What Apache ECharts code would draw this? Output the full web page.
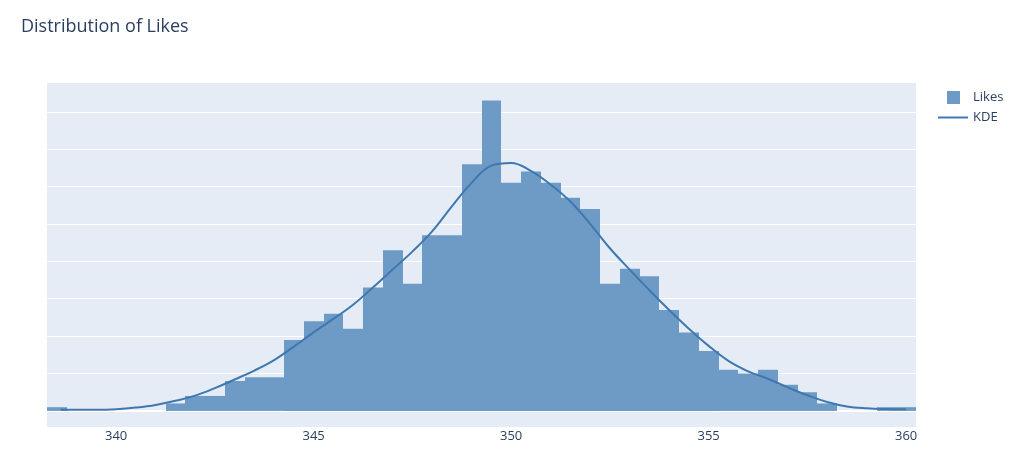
<!DOCTYPE html>
<html>
<head>
<meta charset="utf-8">
<script src="https://cdn.jsdelivr.net/npm/echarts@6/dist/echarts.min.js"></script>
<style>
  html, body { margin: 0; padding: 0; background: #fff; }
  #chart { width: 1024px; height: 474px; }
</style>
</head>
<body>
<div id="chart"></div>
<script>
// histogram bins (centre of each 0.5-wide bin) and counts
const binWidth = 0.5;
const binCenters = [338.5, 339, 339.5, 340, 340.5, 341, 341.5, 342, 342.5, 343, 343.5, 344,
  344.5, 345, 345.5, 346, 346.5, 347, 347.5, 348, 348.5, 349, 349.5, 350, 350.5, 351,
  351.5, 352, 352.5, 353, 353.5, 354, 354.5, 355, 355.5, 356, 356.5, 357, 357.5, 358,
  358.5, 359, 359.5, 360];
const likeCounts = [1, 0, 0, 0, 0, 0, 2, 4, 4, 8, 9, 9,
  19, 24, 26, 22, 33, 43, 34, 47, 47, 66, 83, 61, 64, 61,
  57, 54, 34, 38, 36, 27, 21, 16, 11, 10, 11, 7, 5, 2,
  0, 0, 1, 1];

// KDE curve (same units as the counts)
const kdeX = [338.6, 339, 339.5, 340, 340.5, 341, 341.5, 342, 342.5, 343, 343.5, 344,
  344.5, 345, 345.5, 346, 346.5, 347, 347.5, 348, 348.5, 349, 349.5, 350, 350.5, 351,
  351.5, 352, 352.5, 353, 353.5, 354, 354.5, 355, 355.5, 356, 356.5, 357, 357.5, 358,
  358.5, 359, 359.5, 360];
const kdeY = [0.3, 0.3, 0.3, 0.45, 0.9, 1.6, 2.7, 4.1, 6.1, 8.4, 10.8, 13.6,
  17.2, 21.0, 24.6, 28.4, 33.0, 37.8, 42.6, 48.0, 54.7, 61.0, 65.6, 66.3, 64.2, 60.5,
  56.0, 50.0, 43.5, 37.8, 32.3, 27.0, 22.0, 17.4, 13.4, 10.6, 8.6, 6.3, 4.2, 2.4,
  1.2, 0.7, 0.5, 0.45];

const xTicks = [340, 345, 350, 355, 360];

const textColor = '#2a3f5f';
const barColor = '#6d9bc6';
const lineColor = '#3f78b0';

const myChart = echarts.init(document.getElementById('chart'));

var option = {
    animation: false,
    textStyle: { fontFamily: 'Open Sans' },
    title: {
        text: 'Distribution of Likes',
        left: 16,
        top: 13,
        textStyle: {
            fontFamily: 'Open Sans',
            fontSize: 18,
            fontWeight: 'normal',
            color: textColor
        }
    },
    legend: [
        {
            orient: 'vertical',
            left: 942,
            top: 86,
            itemWidth: 13,
            itemHeight: 13,
            data: [{ name: 'Likes', icon: 'rect' }],
            textStyle: { fontSize: 13, color: textColor, padding: [0, 0, 0, 8] }
        },
        {
            orient: 'vertical',
            left: 933,
            top: 106,
            itemWidth: 30,
            itemHeight: 2,
            data: [{ name: 'KDE', icon: 'rect' }],
            textStyle: { fontSize: 13, color: textColor }
        }
    ],
    grid: {
        left: 47,
        top: 83,
        width: 869,
        height: 344,
        show: true,
        backgroundColor: '#E5ECF6',
        borderWidth: 0
    },
    xAxis: {
        type: 'value',
        min: 338.25,
        max: 360.25,
        axisLine: {
            show: true,
            onZero: true,
            // plotly-style white zero line
            lineStyle: { color: '#ffffff', width: 2 }
        },
        axisTick: { show: false },
        splitLine: { show: false },
        axisLabel: {
            customValues: xTicks,
            margin: 3,
            fontSize: 13,
            color: textColor
        }
    },
    yAxis: {
        type: 'value',
        min: -4.3,
        max: 87.7,
        splitNumber: 9,
        axisLine: { show: false },
        axisTick: { show: false },
        axisLabel: { show: false },
        splitLine: {
            show: true,
            showMinLine: false,
            showMaxLine: false,
            lineStyle: { color: '#ffffff', width: 1 }
        }
    },
    series: [
        {
            name: 'Likes',
            type: 'custom',
            itemStyle: { color: barColor },
            encode: { x: 0, y: 1 },
            data: binCenters.map((c, i) => [c, likeCounts[i]]),
            renderItem: function (params, api) {
                const c = api.value(0);
                const v = api.value(1);
                const p0 = api.coord([c - binWidth / 2, v]);
                const p1 = api.coord([c + binWidth / 2, 0]);
                // snap the sides to whole pixels so neighbouring bars don't leave seams
                const x0 = Math.round(p0[0]);
                const x1 = Math.round(p1[0]);
                return {
                    type: 'rect',
                    shape: { x: x0, y: p0[1], width: x1 - x0, height: p1[1] - p0[1] },
                    style: { fill: barColor, lineWidth: 0 }
                };
            }
        },
        {
            name: 'KDE',
            type: 'line',
            smooth: 0.4,
            symbol: 'none',
            z: 3,
            lineStyle: { color: lineColor, width: 2 },
            itemStyle: { color: lineColor },
            data: kdeX.map((x, i) => [x, kdeY[i]])
        }
    ]
};
myChart.setOption(option);
</script>
</body>
</html>
